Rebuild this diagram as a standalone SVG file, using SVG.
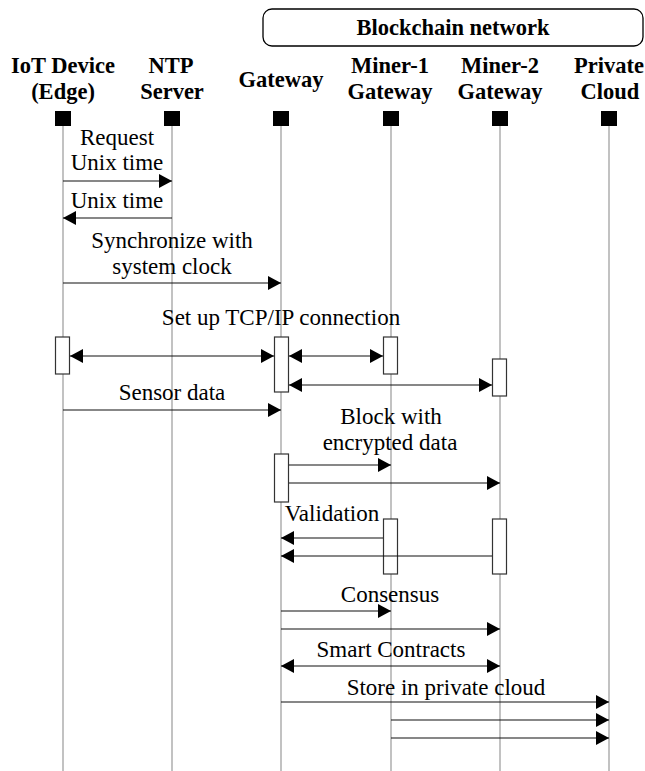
<svg xmlns="http://www.w3.org/2000/svg" width="645" height="771" viewBox="0 0 645 771">
<style>
.hd{font-family:"Liberation Serif","Times New Roman",serif;font-weight:bold;font-size:22.5px;text-anchor:middle;fill:#000}
.lb{font-family:"Liberation Serif","Times New Roman",serif;font-size:23px;text-anchor:middle;fill:#000}
.life{stroke:#999;stroke-width:1.2;fill:none}
.sq{fill:#000}
.act{fill:#fff;stroke:#333;stroke-width:1.2}
.msg{stroke:#111;stroke-width:1.2;fill:none;marker-end:url(#ah)}
.bi{stroke:#111;stroke-width:1.2;fill:none;marker-end:url(#ah);marker-start:url(#ah)}
</style>
<defs>
<marker id="ah" markerUnits="userSpaceOnUse" markerWidth="14" markerHeight="15" refX="13" refY="7" orient="auto-start-reverse" viewBox="0 0 14 15">
<path d="M0,0 L13,7 L0,14 z" fill="#000"/>
</marker>
</defs>
<rect x="263" y="9" width="380" height="37" rx="9" fill="#fff" stroke="#000" stroke-width="1.3"/>
<text class="hd" x="453" y="35">Blockchain network</text>
<g id="iot">
<line class="life" x1="63" y1="126" x2="63" y2="771"/>
<text class="hd" x="63" y="73">IoT Device</text>
<text class="hd" x="63" y="99">(Edge)</text>
<rect class="sq" x="55" y="111" width="16" height="15"/>
<rect class="act" x="55.5" y="337" width="14" height="37"/>
</g>
<g id="ntp">
<line class="life" x1="172" y1="126" x2="172" y2="771"/>
<text class="hd" x="171" y="73">NTP</text>
<text class="hd" x="172" y="99">Server</text>
<rect class="sq" x="164" y="111" width="16" height="15"/>
</g>
<g id="gateway">
<line class="life" x1="281" y1="126" x2="281" y2="771"/>
<text class="hd" x="281" y="87">Gateway</text>
<rect class="sq" x="273" y="111" width="16" height="15"/>
<rect class="act" x="274.5" y="337" width="14" height="55"/>
<rect class="act" x="274.5" y="454" width="14" height="48"/>
</g>
<g id="miner1">
<line class="life" x1="391" y1="126" x2="391" y2="771"/>
<text class="hd" x="390" y="73">Miner-1</text>
<text class="hd" x="390" y="99">Gateway</text>
<rect class="sq" x="383" y="111" width="16" height="15"/>
<rect class="act" x="383.5" y="337" width="14" height="37"/>
<rect class="act" x="383.5" y="519" width="14" height="55"/>
</g>
<g id="miner2">
<line class="life" x1="500" y1="126" x2="500" y2="771"/>
<text class="hd" x="500" y="73">Miner-2</text>
<text class="hd" x="500" y="99">Gateway</text>
<rect class="sq" x="492" y="111" width="16" height="15"/>
<rect class="act" x="492.5" y="359" width="14" height="37"/>
<rect class="act" x="492.5" y="519" width="14" height="55"/>
</g>
<g id="cloud">
<line class="life" x1="609" y1="126" x2="609" y2="771"/>
<text class="hd" x="609" y="73">Private</text>
<text class="hd" x="610" y="99">Cloud</text>
<rect class="sq" x="601" y="111" width="16" height="15"/>
</g>
<g id="connectors">
<text class="lb" x="117" y="145">Request</text>
<text class="lb" x="117" y="170">Unix time</text>
<line class="msg" x1="63" y1="181" x2="172" y2="181"/>
<text class="lb" x="117" y="208">Unix time</text>
<line class="msg" x1="172" y1="218" x2="63" y2="218"/>
<text class="lb" x="172" y="248">Synchronize with</text>
<text class="lb" x="172" y="274">system clock</text>
<line class="msg" x1="63" y1="283" x2="281" y2="283"/>
<text class="lb" x="281" y="325">Set up TCP/IP connection</text>
<line class="bi" x1="70" y1="356" x2="274" y2="356"/>
<line class="bi" x1="289" y1="356" x2="383" y2="356"/>
<line class="bi" x1="289" y1="385" x2="492" y2="385"/>
<text class="lb" x="172" y="400">Sensor data</text>
<line class="msg" x1="63" y1="410" x2="281" y2="410"/>
<text class="lb" x="391" y="424">Block with</text>
<text class="lb" x="390" y="450">encrypted data</text>
<line class="msg" x1="289" y1="465" x2="391" y2="465"/>
<line class="msg" x1="289" y1="483" x2="500" y2="483"/>
<text class="lb" x="332" y="521">Validation</text>
<line class="msg" x1="383" y1="538" x2="281" y2="538"/>
<line class="msg" x1="492" y1="556" x2="281" y2="556"/>
<text class="lb" x="390" y="602">Consensus</text>
<line class="msg" x1="281" y1="611" x2="391" y2="611"/>
<line class="msg" x1="281" y1="629" x2="500" y2="629"/>
<text class="lb" x="391" y="657">Smart Contracts</text>
<line class="bi" x1="281" y1="666" x2="500" y2="666"/>
<text class="lb" x="446" y="695">Store in private cloud</text>
<line class="msg" x1="281" y1="702" x2="609" y2="702"/>
<line class="msg" x1="391" y1="720" x2="609" y2="720"/>
<line class="msg" x1="391" y1="738" x2="609" y2="738"/>
</g>
</svg>
